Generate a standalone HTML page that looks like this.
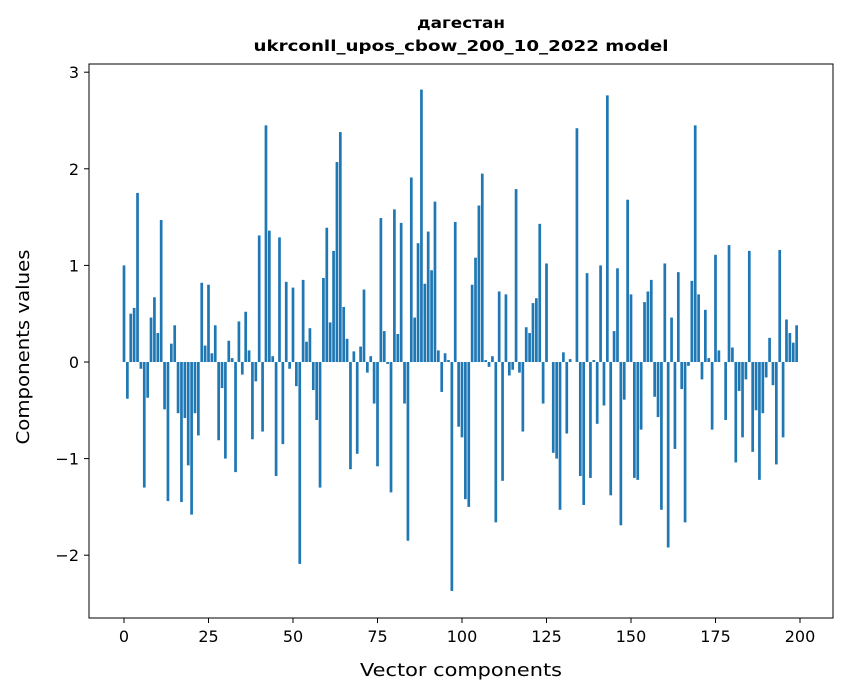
<!DOCTYPE html>
<html><head><meta charset="utf-8"><style>
body{margin:0;background:#fff;font-family:"DejaVu Sans","Liberation Sans",sans-serif;}
svg text{font-family:"DejaVu Sans","Liberation Sans",sans-serif;}
</style></head><body>
<svg id="chart" width="847" height="696" xmlns="http://www.w3.org/2000/svg">
<rect width="847" height="696" fill="#fff"/>
<text x="461" y="28" text-anchor="middle" font-size="15" font-weight="bold" textLength="88" lengthAdjust="spacingAndGlyphs">дагестан</text>
<text x="461" y="51" text-anchor="middle" font-size="15" font-weight="bold" textLength="415" lengthAdjust="spacingAndGlyphs">ukrconll_upos_cbow_200_10_2022 model</text>
<g id="bars"></g>
<g id="xticks"></g>
<g id="yticks"></g>
<rect x="89" y="64" width="744" height="554" fill="none" stroke="#000" stroke-width="1"/>
<text x="461" y="676" text-anchor="middle" font-size="18" textLength="202" lengthAdjust="spacingAndGlyphs">Vector components</text>
<text transform="translate(29,347) rotate(-90)" text-anchor="middle" font-size="18" textLength="195" lengthAdjust="spacingAndGlyphs">Components values</text>
</svg>
<script>
const values = [1.0,-0.38,0.5,0.56,1.75,-0.07,-1.3,-0.37,0.46,0.67,0.3,1.47,-0.49,-1.44,0.19,0.38,-0.53,-1.45,-0.58,-1.07,
-1.58,-0.53,-0.76,0.82,0.17,0.8,0.09,0.38,-0.81,-0.27,-1.0,0.22,0.04,-1.14,0.42,-0.13,0.52,0.12,-0.8,-0.2,
1.31,-0.72,2.45,1.36,0.06,-1.18,1.29,-0.85,0.83,-0.07,0.77,-0.25,-2.09,0.85,0.21,0.35,-0.29,-0.6,-1.3,0.87,
1.39,0.41,1.15,2.07,2.38,0.57,0.24,-1.11,0.11,-0.95,0.16,0.75,-0.11,0.06,-0.43,-1.08,1.49,0.32,-0.02,-1.35,
1.58,0.29,1.44,-0.43,-1.85,1.91,0.46,1.23,2.82,0.81,1.35,0.95,1.66,0.12,-0.31,0.09,0.02,-2.37,1.45,-0.67,
-0.78,-1.42,-1.5,0.8,1.08,1.62,1.95,0.02,-0.05,0.06,-1.66,0.73,-1.23,0.7,-0.14,-0.08,1.79,-0.11,-0.72,0.36,
0.3,0.61,0.66,1.43,-0.43,1.02,0.0,-0.94,-1.0,-1.53,0.1,-0.74,0.03,0.0,2.42,-1.18,-1.48,0.92,-1.2,0.02,
-0.64,1.0,-0.45,2.76,-1.38,0.32,0.97,-1.69,-0.39,1.68,0.7,-1.2,-1.22,-0.7,0.62,0.73,0.85,-0.36,-0.57,-1.53,
1.02,-1.92,0.46,-0.9,0.93,-0.28,-1.66,-0.04,0.84,2.45,0.7,-0.18,0.54,0.04,-0.7,1.11,0.12,0.0,-0.6,1.21,
0.15,-1.04,-0.3,-0.78,-0.18,1.15,-0.93,-0.5,-1.22,-0.53,-0.16,0.25,-0.24,-1.06,1.16,-0.78,0.44,0.3,0.2,0.38];
const xTicks = [0,25,50,75,100,125,150,175,200];
const yTicks = [-2,-1,0,1,2,3];
const yLabels = ["\u22122","\u22121","0","1","2","3"];
const NS="http://www.w3.org/2000/svg";
function xs(v){return 124 + v*3.38;}
function ys(v){return 362 - v*96.6;}
const bars=document.getElementById('bars');
values.forEach((v,i)=>{
  const r=document.createElementNS(NS,'rect');
  
  
  const w=2.7;
  r.setAttribute('x',xs(i)-w/2);
  r.setAttribute('y',Math.min(ys(v),ys(0)));
  r.setAttribute('width',w);
  r.setAttribute('height',Math.abs(ys(v)-ys(0)));
  r.setAttribute('fill','#1f77b4');
  bars.appendChild(r);
});
const xg=document.getElementById('xticks');
xTicks.forEach(t=>{
  const l=document.createElementNS(NS,'line');
  
  
  l.setAttribute('x1',xs(t));l.setAttribute('x2',xs(t));
  l.setAttribute('y1',618);l.setAttribute('y2',623);
  l.setAttribute('stroke','#000');
  xg.appendChild(l);
  const tx=document.createElementNS(NS,'text');
  
  
  tx.setAttribute('x',xs(t));tx.setAttribute('y',642);
  tx.setAttribute('text-anchor','middle');tx.setAttribute('font-size','16');
  tx.textContent=t;
  xg.appendChild(tx);
});
const yg=document.getElementById('yticks');
yTicks.forEach((t,k)=>{
  const l=document.createElementNS(NS,'line');
  
  
  l.setAttribute('x1',84);l.setAttribute('x2',89);
  l.setAttribute('y1',ys(t));l.setAttribute('y2',ys(t));
  l.setAttribute('stroke','#000');
  yg.appendChild(l);
  const tx=document.createElementNS(NS,'text');
  
  
  tx.setAttribute('x',79);tx.setAttribute('y',ys(t)+6);
  tx.setAttribute('text-anchor','end');tx.setAttribute('font-size','16');
  tx.textContent=yLabels[k];
  yg.appendChild(tx);
});
</script>
</body></html>
